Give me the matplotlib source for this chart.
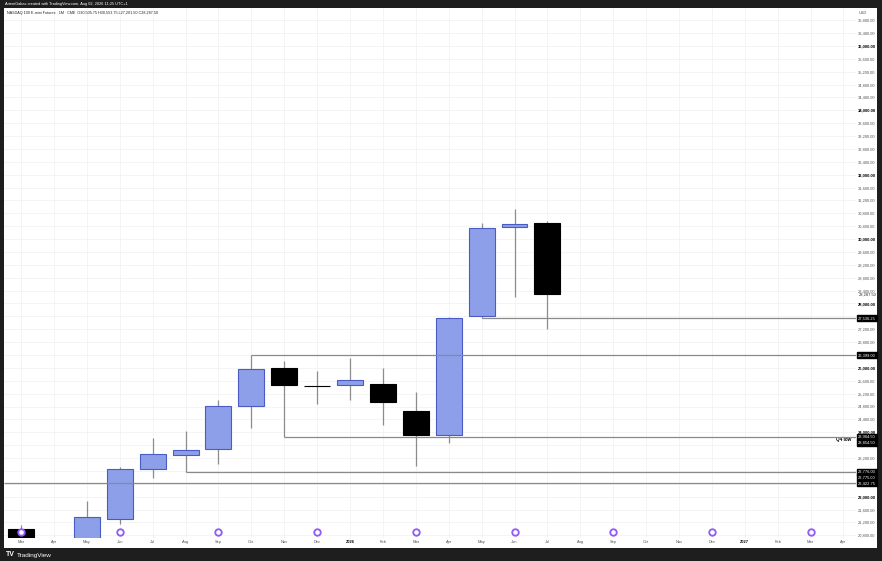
import matplotlib
matplotlib.use("Agg")
import matplotlib.pyplot as plt
from matplotlib.patches import Rectangle

# month tick labels along the time axis (Mar 2025 .. Apr 2027)
month_labels = ['Mar', 'Apr', 'May', 'Jun', 'Jul', 'Aug', 'Sep', 'Oct', 'Nov', 'Dec',
                '2026', 'Feb', 'Mar', 'Apr', 'May', 'Jun', 'Jul', 'Aug', 'Sep', 'Oct',
                'Nov', 'Dec', '2027', 'Feb', 'Mar', 'Apr']

# monthly OHLC, Mar 2025 .. Jul 2026
opens = [21000, 19300, 19700, 21298, 22860, 23295, 23472, 24826, 25988, 25450,
         25460, 25509, 24671, 23904.5, 27600, 30366, 30505.75]
highs = [21120, 20300, 21866, 22913, 23823, 24050, 25003, 26399, 26224, 25904,
         26317, 25997, 25242, 27590, 30491, 30935, 30553.75]
lows = [19150, 16460, 19500, 21161, 22581, 22776, 23025, 24143, 23854.5, 24870,
        25003, 24227, 22953, 23658, 27536.25, 28193, 27201.5]
closes = [19300, 19700, 21360, 22851, 23317, 23441, 24807, 25957, 25460, 25430,
          25615, 24932, 23904.5, 27560, 30335, 30460, 28287.5]

# horizontal rays: (start month index, price); -1 means from off-screen
ray_starts = [7, 8, 14, 5, -1]
ray_prices = [26399, 23854.5, 27536.25, 22776, 22422.75]

# boxed price-axis labels (price, text)
box_prices = [27536.25, 26399, 23854.5, 23854.5, 22776, 22776, 22422.75]
box_texts = ['27,536.25', '26,399.00', '23,904.50', '23,854.50', '22,776.00', '22,775.00', '22,422.75']
box_shift = [0, 0, 0, -4, 0, -4, 0]

# rollover markers (month indices)
marker_months = [0, 3, 6, 9, 12, 15, 18, 21, 24]

W, H = 882, 561
fig = plt.figure(figsize=(W / 100, H / 100), dpi=100, facecolor='#1e1e1e')
fig.patches.append(Rectangle((4 / W, 1 - 548 / H), 873 / W, 540 / H,
                             transform=fig.transFigure, facecolor='white',
                             edgecolor='none', zorder=-10))
ax = fig.add_axes([4 / W, 1 - 538 / H, 852 / W, 530 / H])
ax.set_zorder(1)
ax.set_facecolor('white')

font = 'Liberation Sans'
bull_face = '#8c9fe8'
bull_edge = '#4a5bc2'
wick_col = '#8c8c8c'

for i in range(len(opens)):
    o, h, l, c = opens[i], highs[i], lows[i], closes[i]
    ax.vlines(i, l, h, color=wick_col, linewidth=0.9, zorder=2)
    if c >= o:
        ax.bar(i, c - o, bottom=o, width=0.79, color=bull_face,
               edgecolor=bull_edge, linewidth=0.8, zorder=3)
    else:
        ax.bar(i, o - c, bottom=c, width=0.79, color='black',
               edgecolor='black', linewidth=0.8, zorder=3)

x_min, x_max = -0.517, 25.38
for s, p in zip(ray_starts, ray_prices):
    start = x_min if s < 0 else s
    ax.hlines(p, start, x_max, color='#8a8a8a', linewidth=0.9, zorder=4)

ax.text(0.994, 23854.5, 'Q4 low', transform=ax.get_yaxis_transform(),
        ha='right', va='top', fontsize=3.3, fontweight='bold',
        family=font, color='black')

for p, t, sh in zip(box_prices, box_texts, box_shift):
    ax.annotate(t, xy=(1.0, p), xycoords=ax.get_yaxis_transform(),
                xytext=(1.5, sh), textcoords='offset points',
                ha='left', va='center', fontsize=2.9, family=font,
                color='white',
                bbox=dict(boxstyle='square,pad=0.25', facecolor='black',
                          edgecolor='black'), annotation_clip=False)

# last price label
ax.annotate(f'{closes[-1]:,.2f}', xy=(1.0, closes[-1]), xycoords=ax.get_yaxis_transform(),
            xytext=(2.2, 0), textcoords='offset points', ha='left', va='center',
            fontsize=2.9, family=font, color='#222222', annotation_clip=False)

xt = ax.get_xaxis_transform()
ax.plot(marker_months, [0.012] * len(marker_months), 'o', transform=xt,
        markersize=5, markerfacecolor='#8f5cf5', markeredgecolor='#8f5cf5', zorder=6)
ax.plot(marker_months, [0.012] * len(marker_months), 'o', transform=xt,
        markersize=2.3, markerfacecolor='white', markeredgecolor='white', zorder=7)

ax.set_xlim(x_min, x_max)
ax.set_ylim(20717, 37177)

yt = list(range(20800, 36801, 400))
ax.set_yticks(yt)
ax.set_yticklabels([f'{v:,.2f}' for v in yt])
ax.yaxis.tick_right()
for v, lab in zip(yt, ax.get_yticklabels()):
    lab.set_fontsize(2.9)
    lab.set_family(font)
    if v % 2000 == 0:
        lab.set_fontweight('bold')
        lab.set_color('black')
    else:
        lab.set_color('#555555')

ax.set_xticks(range(len(month_labels)))
ax.set_xticklabels(month_labels)
for lab in ax.get_xticklabels():
    lab.set_fontsize(2.9)
    lab.set_family(font)
    lab.set_color('#555555')
    if lab.get_text().isdigit():
        lab.set_fontweight('bold')
        lab.set_color('black')
ax.tick_params(axis='both', length=0, pad=1.5)
ax.grid(True, color='#f2f2f2', linewidth=0.6, zorder=0)
ax.set_axisbelow(True)
for sp in ax.spines.values():
    sp.set_visible(False)

ax.text(1.003, 1 - 3 / 530, 'USD', transform=ax.transAxes, ha='left', va='top',
        fontsize=2.9, family=font, color='#555555')
ax.text(3 / 852, 1 - 3 / 530,
        'NASDAQ 100 E-mini Futures · 1M · CME  O30,505.75 H30,553.75 L27,201.50 C28,287.50',
        transform=ax.transAxes, ha='left', va='top', fontsize=2.7, family=font,
        color='#222222')

fig.text(5 / W, 1 - 4 / H, 'ArtemGabas created with TradingView.com, Aug 02, 2026 11:25 UTC+1',
         ha='left', va='center', fontsize=2.8, family=font, color='white')
fig.text(6 / W, 1 - 555 / H, 'TV', ha='left', va='center', fontsize=5,
         fontweight='bold', family=font, color='white')
fig.text(17 / W, 1 - 555 / H, 'TradingView', ha='left', va='center', fontsize=4.6,
         family=font, color='white')

fig.savefig('out.png', dpi=100, facecolor=fig.get_facecolor())
